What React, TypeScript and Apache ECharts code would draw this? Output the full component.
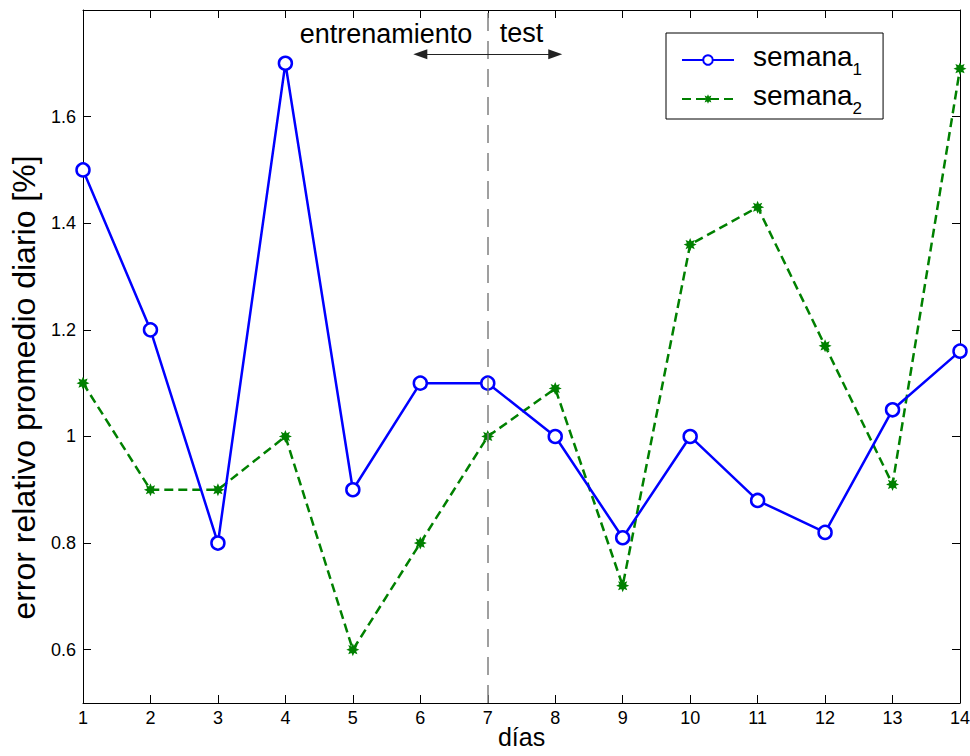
import React, { useEffect, useRef } from "react";
import * as echarts from "echarts";

// Days on the horizontal axis
const dias = [1, 2, 3, 4, 5, 6, 7, 8, 9, 10, 11, 12, 13, 14];
// Daily mean relative error [%] for each week
const semana1 = [1.5, 1.2, 0.8, 1.7, 0.9, 1.1, 1.1, 1.0, 0.81, 1.0, 0.88, 0.82, 1.05, 1.16];
const semana2 = [1.1, 0.9, 0.9, 1.0, 0.6, 0.8, 1.0, 1.09, 0.72, 1.36, 1.43, 1.17, 0.91, 1.69];
// Tick values of the y axis
const yTicks = [0.6, 0.8, 1.0, 1.2, 1.4, 1.6];
// Split between training and test days, and the arrow spanning it
const splitDay = 7;
const arrowFrom = 6;
const arrowTo = 8;
const arrowLevel = 1.717;

const FONT = "'Liberation Sans', Arial, Helvetica, sans-serif";
const BLUE = "#0000ff";
const GREEN = "#008000";

// Eight-pointed star used as the marker of the second week
function starPath(): string {
  const pts: string[] = [];
  for (let i = 0; i < 16; i++) {
    const a = (i * 22.5 - 90) * (Math.PI / 180);
    const r = i % 2 === 0 ? 10 : 5.5;
    pts.push(`${(10 + r * Math.cos(a)).toFixed(2)} ${(10 + r * Math.sin(a)).toFixed(2)}`);
  }
  return "path://M" + pts.join(" L") + " Z";
}

export default function App() {
  const ref = useRef<HTMLDivElement>(null);

  useEffect(() => {
    document.body.style.margin = "0";
    document.body.style.overflow = "hidden";
    if (!ref.current) return;
    const chart = echarts.init(ref.current, null, { renderer: "svg" });

    const axisCommon = {
      type: "value" as const,
      axisLine: { show: true, onZero: false, lineStyle: { color: "#000", width: 1 } },
      axisTick: { show: true, inside: true, length: 8, lineStyle: { color: "#000", width: 1 } },
      splitLine: { show: false },
    };

    const xMin = dias[0];
    const xMax = dias[dias.length - 1];

    chart.setOption({
      animation: false,
      backgroundColor: "#fff",
      textStyle: { fontFamily: FONT },
      grid: { left: 83, right: 10, top: 10, bottom: 53, containLabel: false, outerBoundsMode: "none" },
      xAxis: [
        {
          ...axisCommon,
          min: xMin,
          max: xMax,
          interval: 1,
          name: "días",
          nameLocation: "middle",
          nameMoveOverlap: false,
          nameGap: 21,
          nameTextStyle: { fontSize: 25, lineHeight: 26, color: "#000", fontFamily: FONT },
          axisLabel: { fontSize: 18, color: "#000", margin: 6, fontFamily: FONT },
        },
        {
          ...axisCommon,
          position: "top",
          min: xMin,
          max: xMax,
          interval: 1,
          axisLabel: { show: false },
        },
      ],
      yAxis: [
        {
          ...axisCommon,
          min: 0.5,
          max: 1.8,
          name: "error relativo promedio diario [%]",
          nameLocation: "middle",
          nameMoveOverlap: false,
          nameRotate: 90,
          nameGap: 43,
          nameTextStyle: { fontSize: 32, lineHeight: 32, color: "#000", fontFamily: FONT, padding: [0, 62, 0, 0] },
          axisTick: { ...axisCommon.axisTick, customValues: yTicks },
          axisLabel: {
            fontSize: 18,
            color: "#000",
            margin: 7,
            fontFamily: FONT,
            customValues: yTicks,
            formatter: (v: number) => String(Math.round(v * 10) / 10),
          },
        },
        {
          ...axisCommon,
          position: "right",
          min: 0.5,
          max: 1.8,
          axisTick: { ...axisCommon.axisTick, customValues: yTicks },
          axisLabel: { show: false },
        },
      ],
      legend: {
        left: 666,
        top: 33,
        orient: "vertical",
        selectedMode: false,
        backgroundColor: "#fff",
        borderColor: "#000",
        borderWidth: 1,
        padding: [2, 21, 2, 15],
        itemWidth: 52,
        itemHeight: 12,
        itemGap: -4,
        data: ["semana1", "semana2"],
        formatter: (name: string) => `{s|semana}{sub|${name.slice(-1)}}`,
        textStyle: {
          fontFamily: FONT,
          color: "#000",
          rich: {
            s: { fontSize: 28, lineHeight: 36, verticalAlign: "top", padding: [0, 0, 0, 14], fontFamily: FONT, color: "#000" },
            sub: { fontSize: 17, lineHeight: 20, verticalAlign: "bottom", padding: [26, 0, 0, 0], fontFamily: FONT, color: "#000" },
          },
        },
      },
      series: [
        {
          name: "semana1",
          type: "line",
          data: dias.map((d, i) => [d, semana1[i]]),
          symbol: "circle",
          symbolSize: 13,
          showAllSymbol: true,
          lineStyle: { color: BLUE, width: 2.5 },
          itemStyle: { color: "#fff", borderColor: BLUE, borderWidth: 2.5 },
          z: 3,
          markLine: {
            silent: true,
            symbol: ["none", "none"],
            label: { show: false },
            lineStyle: { color: "#808080", type: [18, 10], width: 1.5 },
            data: [{ xAxis: splitDay }],
          },
        },
        {
          name: "semana2",
          type: "line",
          data: dias.map((d, i) => [d, semana2[i]]),
          symbol: starPath(),
          symbolSize: 13,
          showAllSymbol: true,
          lineStyle: { color: GREEN, width: 2.5, type: [9, 5] },
          itemStyle: { color: GREEN, borderWidth: 0 },
          z: 2,
          markLine: {
            silent: true,
            symbol: ["triangle", "triangle"],
            symbolSize: [10, 14],
            label: { show: false },
            lineStyle: { color: "#222", type: "solid", width: 1.2 },
            itemStyle: { color: "#222" },
            data: [[{ coord: [arrowFrom, arrowLevel] }, { coord: [arrowTo, arrowLevel] }]],
          },
        },
      ],
      graphic: [
        {
          type: "text",
          x: 386,
          y: 33.5,
          style: { text: "entrenamiento", fontSize: 27, fontFamily: FONT, fill: "#000", align: "center", verticalAlign: "middle" },
        },
        {
          type: "text",
          x: 521.5,
          y: 32.5,
          style: { text: "test", fontSize: 27, fontFamily: FONT, fill: "#000", align: "center", verticalAlign: "middle" },
        },
      ],
    });

    return () => chart.dispose();
  }, []);

  return (
    <div
      ref={ref}
      style={{ width: 970, height: 756, position: "absolute", left: 0, top: 0, overflow: "hidden" }}
    />
  );
}
